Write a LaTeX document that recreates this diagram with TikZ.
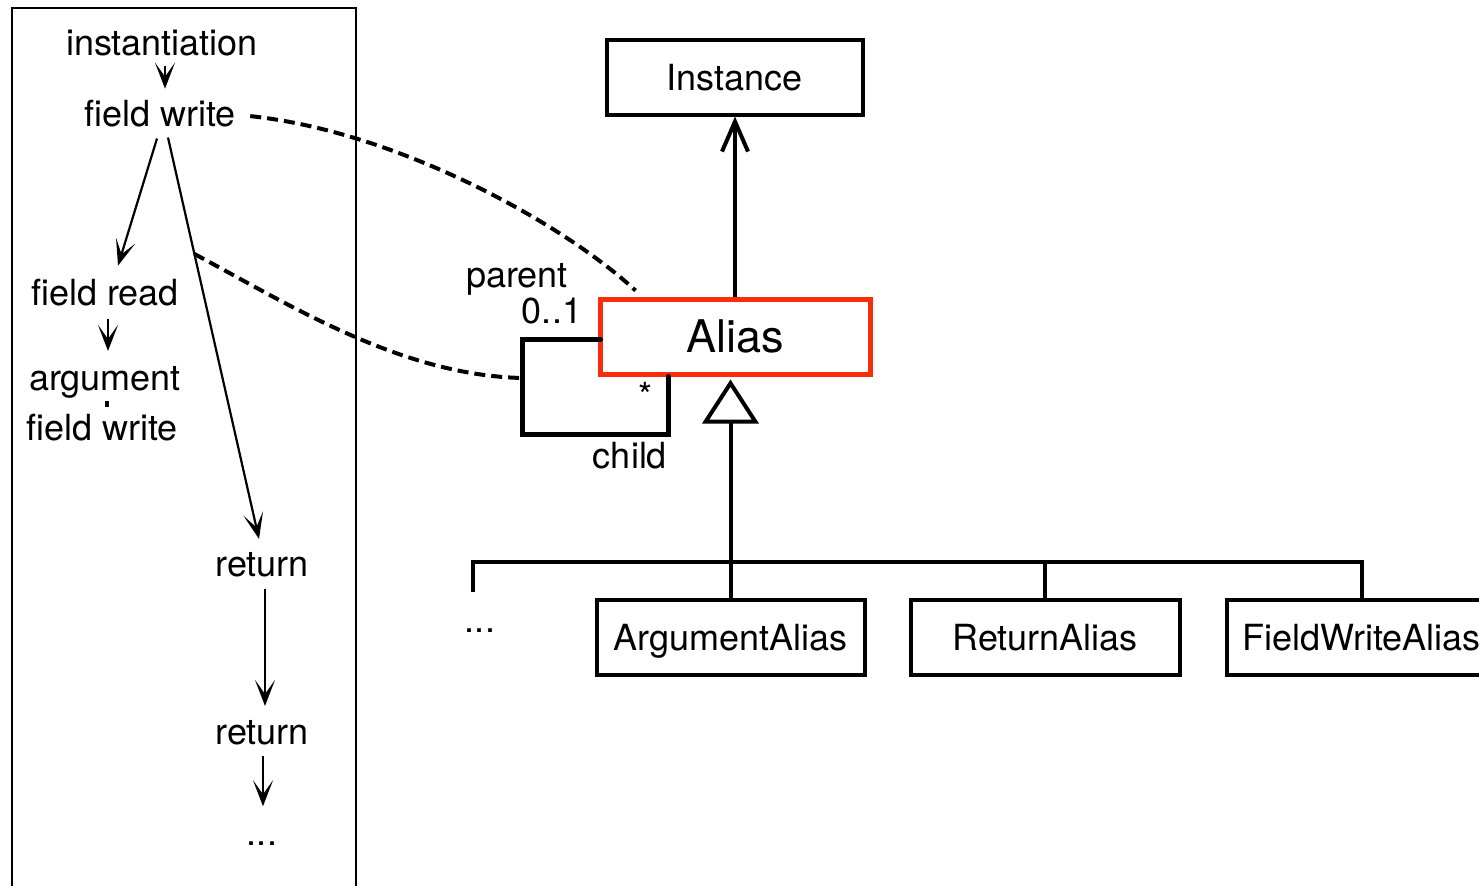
\documentclass[tikz,border=0pt]{standalone}
\usepackage{fontspec}
\setmainfont{TeX Gyre Heros}
\usetikzlibrary{arrows.meta}
\definecolor{aliasred}{RGB}{250,45,10}
\begin{document}
\begin{tikzpicture}[x=0.5pt,y=-0.5pt,
  every node/.style={font=\fontsize{18}{22}\selectfont},
  lbl/.style={inner sep=0pt, outer sep=0pt, anchor=base},
  flow/.style={line width=1.1pt, -{Stealth[length=13pt,width=10pt,inset=7pt]}},
  tick/.style={line width=1.6pt},
  link/.style={line width=2pt, dash pattern=on 5.5pt off 3pt},
  cls/.style={draw, line width=2pt, minimum width=134pt, minimum height=37.5pt,
              inner sep=0pt, text height=13pt, text depth=0pt},
  tree/.style={line width=2pt},
  selfassoc/.style={line width=2.5pt, line join=miter, line cap=round},
]
\useasboundingbox (0,0) rectangle (1479,885);
\fill[white] (0,0) rectangle (1479,885);
\clip (0,0) rectangle (1479,885);

% ---- left panel: chain of events ----
\draw[line width=1pt] (11.5,7.5) rectangle (356,905);

\node[lbl] (ninst) at (162,55)  {instantiation};
\node[lbl] (fw1)   at (160,126) {field write};
\node[lbl] (fr)    at (105,305) {field read};
\node[lbl] (arg)   at (105,390) {argument};
\node[lbl] (fw2)   at (102,440) {field write};
\node[lbl] (ret1)  at (262,576) {return};
\node[lbl] (ret2)  at (262,744) {return};
\node[lbl] (more1) at (262,845) {...};

\draw[flow] ([shift={(3,10)}]ninst.south) -- ([shift={(5,-11)}]fw1.north);
\draw[flow] ([shift={(-3,12)}]fw1.south) -- ([shift={(13,-13)}]fr.north);
\draw[flow] ([shift={(8,11)}]fw1.south) -- ([shift={(-3,-13)}]ret1.north)
  coordinate[pos=0.29] (onret);
\draw[flow] ([shift={(3,13)}]fr.south) -- ([shift={(3,-15)}]arg.north);
\draw[tick] ([shift={(2,3)}]arg.south) -- ([shift={(5,-7)}]fw2.north);
\draw[flow] ([shift={(3,12)}]ret1.south) -- ([shift={(3,-14)}]ret2.north);
\draw[flow] ([shift={(1,11)}]ret2.south) -- ([shift={(1,-35)}]more1.north);

% ---- class diagram ----
\node[cls, minimum width=128pt] (cinstance) at (734.5,77) {Instance};
\node[cls, draw=aliasred, line width=2.5pt, minimum width=135pt,
      font=\fontsize{22.5}{26}\selectfont, text height=16.2pt] (alias) at (735,336.5) {Alias};

\node[cls] (aa)  at (730.5,637) {ArgumentAlias};
\node[cls, minimum width=134.5pt] (rta) at (1045,637) {ReturnAlias};
\node[cls, minimum width=135pt]   (fwa) at (1361.5,637) {FieldWriteAlias};

\draw[line width=2pt, -{Straight Barb[length=15pt,width=13pt]}]
  (alias.north) -- (alias.north |- cinstance.south);

% self association parent/child
\coordinate (selfBL) at (522,434);
\coordinate (selfBR) at (668,434);
\coordinate (selfL)  at (522,378);
\draw[selfassoc] ([shift={(3,3)}]alias.west) -| (selfBL) -- (selfBR) -- (selfBR |- alias.south);
\node[lbl] (parent) at (517,287) {parent};
\node[lbl] (mult1)  at (552,323) {0..1};
\node[lbl] (mult2)  at (645,408) {*};
\node[lbl] (child)  at (630,468) {child};

% generalization tree
\coordinate (busL)   at (473,562);
\coordinate (busEnd) at (473,592);
\draw[tree] (busEnd) -- (busL) -- (busL -| fwa.north) -- (fwa.north);
\draw[tree] (rta.north) -- (rta.north |- busL);
\draw[tree] (aa.north) -- (aa.north |- busL);
\draw[tree, shorten >=1.5pt, -{Triangle[open,length=22pt,width=28pt]}]
  (aa.north |- busL) -- (aa.north |- alias.south);
\node[lbl] (more2) at (480,632) {...};

% dashed links from events to the alias
\draw[link] ([shift={(14.5,3)}]fw1.east) .. controls (400,132) and (565,225) .. ([shift={(38,-6)}]alias.north west);
\draw[link] (onret) .. controls (290,305) and (400,375) .. (selfL);
\end{tikzpicture}
\end{document}
